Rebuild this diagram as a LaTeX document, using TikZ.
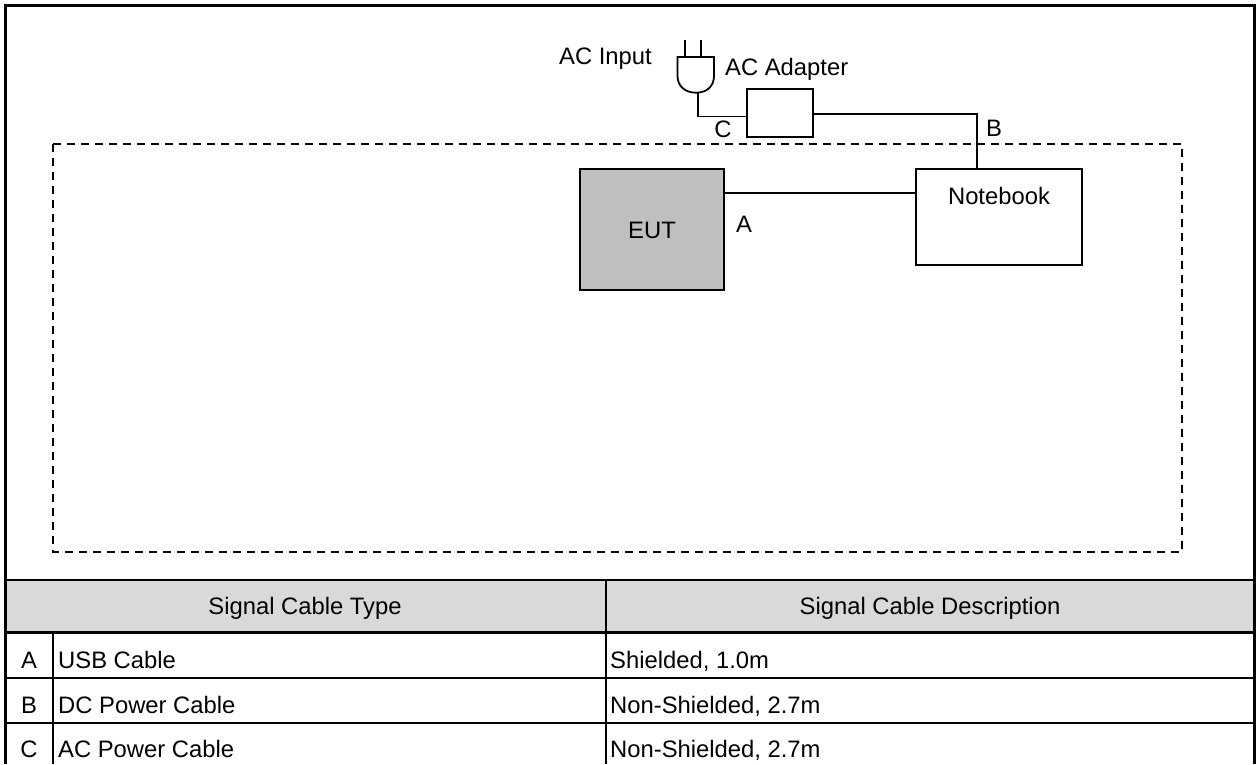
\documentclass[tikz,border=0pt]{standalone}
\usepackage{fontspec}
\setmainfont{Liberation Sans}
\tikzset{
  x=1pt,y=-1pt,
  lbl/.style={inner sep=0pt,font=\fontsize{23.8}{28}\selectfont,text=black,text height=17pt,text depth=0pt},
  leftlbl/.style={lbl,anchor=west},
  box/.style={draw=black,line width=2pt,inner sep=0pt,outer sep=0pt,anchor=north west},
  wire/.style={draw=black,line width=1.8pt},
  heavy/.style={draw=black,line width=3pt},
  rule/.style={draw=black,line width=2.6pt},
}
\begin{document}
\begin{tikzpicture}
\useasboundingbox (0,0) rectangle (1257,764);
% header band
\fill[fill={rgb,255:red,217;green,217;blue,217}] (5,580) rectangle (1254,632.5);
% dashed area
\draw[black,line width=1.6pt,dash pattern=on 8pt off 6pt] (53,144) rectangle (1182,552);
% boxes
\node[box,fill={rgb,255:red,191;green,191;blue,191},minimum width=144pt,minimum height=121pt] (eut) at (580,169) {};
\node[box,fill=white,minimum width=166pt,minimum height=96pt] (nb) at (916,169) {};
\node[box,fill=white,minimum width=66pt,minimum height=48pt] (ad) at (747,88.5) {};
% plug
\coordinate (pa) at (685.3,40);
\coordinate (pb) at (701.3,40);
\coordinate (pc) at (698,93);
\coordinate (pd) at (698,116.5);
\coordinate (pe) at (977,114);
\draw[wire] (677.5,57) -- (714,57) -- (714,76) .. controls (714,86) and (707,92.7) .. (696,92.7) .. controls (685,92.7) and (677.5,86) .. (677.5,76) -- cycle;
\draw[wire] (pa) -- (685.3,57);
\draw[wire] (pb) -- (701.3,57);
% connectors
\draw[wire] (pc) -- (pd) -- (pd -| ad.west);
\draw[wire] (ad.east |- pe) -- (pe) -- (pe |- nb.north);
\draw[wire] (eut.east |- 0,193) -- (nb.west |- 0,193);
% diagram labels
\node[lbl] (tin) at (605.5,56) {AC Input};
\node[leftlbl] (tad) at (725,66.5) {AC Adapter};
\node[lbl] (tc) at (723,129) {C};
\node[lbl] (tb) at (994,128) {B};
\node[lbl] (ta) at (744,224) {A};
\node[lbl] (teut) at (652,230) {EUT};
\node[lbl] (tnb) at (999,196) {Notebook};
% table rules
\draw[rule] (5,580) -- (1254,580);
\draw[rule] (5,632.5) -- (1254,632.5);
\draw[rule] (5,678) -- (1254,678);
\draw[rule] (5,723) -- (1254,723);
\draw[rule] (606,580) -- (606,764);
\draw[rule] (53,632.5) -- (53,764);
% outer frame
\draw[heavy] (5.5,764) -- (5.5,5) -- (1254,5) -- (1254,764);
% table text
\node[lbl] (h1) at (305,606) {Signal Cable Type};
\node[lbl] (h2) at (930,606) {Signal Cable Description};
\node[lbl] (ra) at (29,659.5) {A};
\node[lbl] (rb) at (29,704.5) {B};
\node[lbl] (rc) at (29,749) {C};
\node[leftlbl] (t1) at (58,659.5) {USB Cable};
\node[leftlbl] (t2) at (58,704.5) {DC Power Cable};
\node[leftlbl] (t3) at (58,749) {AC Power Cable};
\node[leftlbl] (d1) at (610,659.5) {Shielded, 1.0m};
\node[leftlbl] (d2) at (610,704.5) {Non-Shielded, 2.7m};
\node[leftlbl] (d3) at (610,749) {Non-Shielded, 2.7m};
\end{tikzpicture}
\end{document}
